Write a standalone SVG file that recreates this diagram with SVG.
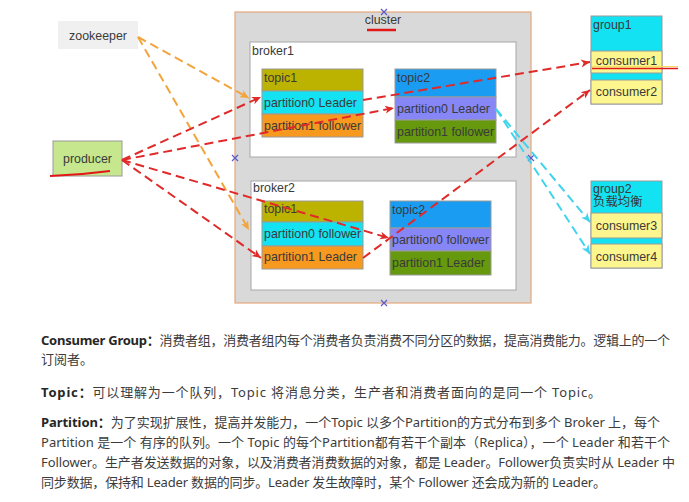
<svg xmlns="http://www.w3.org/2000/svg" width="689" height="502" viewBox="0 0 689 502">
<style>
.lbl{font-family:"Liberation Sans",Arial,sans-serif;font-size:12.4px;fill:#3a3a3a}
.box{stroke:#9a9a9a;stroke-width:1}
.red{fill:none;stroke:#e02a2a;stroke-width:2;stroke-dasharray:9,5}
.org{fill:none;stroke:#f3a43a;stroke-width:2;stroke-dasharray:9,5}
.cyn{fill:none;stroke:#3fd3ee;stroke-width:2;stroke-dasharray:9,5}
.body{font-family:"Noto Sans","Noto Sans CJK SC",sans-serif;font-size:13px;fill:#3c3c3c}
.b{font-weight:bold;fill:#262626}
.xm{stroke:#5a5acc;stroke-width:1.2}
</style>
<defs>
<marker id="ar" markerUnits="userSpaceOnUse" markerWidth="10" markerHeight="10" refX="9" refY="5" orient="auto"><path d="M0,1 L9,5 L0,9 L2.5,5 Z" fill="#e02a2a"/></marker>
<marker id="ao" markerUnits="userSpaceOnUse" markerWidth="10" markerHeight="10" refX="9" refY="5" orient="auto"><path d="M0,1 L9,5 L0,9 L2.5,5 Z" fill="#f3a43a"/></marker>
<marker id="ac" markerUnits="userSpaceOnUse" markerWidth="10" markerHeight="10" refX="9" refY="5" orient="auto"><path d="M0,1 L9,5 L0,9 L2.5,5 Z" fill="#3fd3ee"/></marker>
</defs>
<rect width="689" height="502" fill="#ffffff"/>

<g id="zookeeper">
<rect x="58" y="21" width="80" height="28" fill="#f0f0f0"/>
<text class="lbl" x="98" y="39.5" text-anchor="middle">zookeeper</text>
</g>

<g id="producer">
<rect class="box" x="53" y="141" width="69" height="35" fill="#c6e78d"/>
<text class="lbl" x="87.5" y="163" text-anchor="middle">producer</text>
</g>

<g id="cluster">
<rect x="235" y="12" width="296" height="291" fill="#d9d9d9" stroke="#e2a77c" stroke-width="1.2"/>
<text class="lbl" x="383" y="24" text-anchor="middle">cluster</text>
<path class="xm" d="M381,9 L387,15 M387,9 L381,15 M232,155 L238,161 M238,155 L232,161 M528,155 L534,161 M534,155 L528,161 M381,300 L387,306 M387,300 L381,306"/>
</g>

<g id="broker1">
<rect x="250" y="42" width="266" height="115" fill="#ffffff" stroke="#a8a8a8"/>
<text class="lbl" x="252" y="55">broker1</text>
</g>
<g id="broker1-topic1">
<rect class="box" x="262" y="69" width="101" height="22" fill="#bcb200"/>
<rect class="box" x="262" y="91" width="101" height="23" fill="#12e2f2"/>
<rect class="box" x="262" y="114" width="101" height="23" fill="#f7981f"/>
<text class="lbl" x="264" y="82">topic1</text>
<text class="lbl" x="264" y="107">partition0 Leader</text>
<text class="lbl" x="264" y="130">partition1 follower</text>
</g>
<g id="broker1-topic2">
<rect class="box" x="395" y="69" width="101" height="28" fill="#1a9cf2"/>
<rect class="box" x="395" y="97" width="101" height="23" fill="#8686f6"/>
<rect class="box" x="395" y="120" width="101" height="23" fill="#66990d"/>
<text class="lbl" x="397" y="82">topic2</text>
<text class="lbl" x="397" y="113">partition0 Leader</text>
<text class="lbl" x="397" y="136">partition1 follower</text>
</g>

<g id="broker2">
<rect x="251" y="181" width="265" height="109" fill="#ffffff" stroke="#a8a8a8"/>
<text class="lbl" x="253" y="192">broker2</text>
</g>
<g id="broker2-topic1">
<rect class="box" x="262" y="201" width="101" height="21" fill="#bcb200"/>
<rect class="box" x="262" y="222" width="101" height="24" fill="#12e2f2"/>
<rect class="box" x="262" y="246" width="101" height="23" fill="#f7981f"/>
<text class="lbl" x="264" y="213">topic1</text>
<text class="lbl" x="264" y="238">partition0 follower</text>
<text class="lbl" x="264" y="261">partition1 Leader</text>
</g>
<g id="broker2-topic2">
<rect class="box" x="390" y="201" width="101" height="27" fill="#1a9cf2"/>
<rect class="box" x="390" y="228" width="101" height="23" fill="#8686f6"/>
<rect class="box" x="390" y="251" width="101" height="24" fill="#66990d"/>
<text class="lbl" x="392" y="214">topic2</text>
<text class="lbl" x="392" y="244">partition0 follower</text>
<text class="lbl" x="392" y="267">partition1 Leader</text>
</g>

<g id="group1">
<rect class="box" x="591" y="16" width="71" height="88" fill="#12e2f2"/>
<text class="lbl" x="593" y="29">group1</text>
<rect class="box" x="591" y="51" width="71" height="22" fill="#fdf68e"/>
<text class="lbl" x="626.5" y="65" text-anchor="middle">consumer1</text>
<rect class="box" x="591" y="80" width="71" height="24" fill="#fdf68e"/>
<text class="lbl" x="626.5" y="96" text-anchor="middle">consumer2</text>
</g>

<g id="group2">
<rect class="box" x="591" y="181" width="71" height="87" fill="#12e2f2"/>
<text class="lbl" x="593" y="193">group2</text>
<text class="lbl" x="593" y="206" style="font-family:'Liberation Sans','Noto Sans CJK SC',sans-serif">负载均衡</text>
<rect class="box" x="591" y="213" width="71" height="25" fill="#fdf68e"/>
<text class="lbl" x="626.5" y="230" text-anchor="middle">consumer3</text>
<rect class="box" x="591" y="244" width="71" height="24" fill="#fdf68e"/>
<text class="lbl" x="626.5" y="261" text-anchor="middle">consumer4</text>
</g>

<g id="connectors">
<path class="org" d="M138,37 L249,98" marker-end="url(#ao)"/>
<path class="org" d="M138,37 L249,230" marker-end="url(#ao)"/>
<path class="red" d="M122,160 L261,97" marker-end="url(#ar)"/>
<path class="red" d="M122,160 L394,108" marker-end="url(#ar)"/>
<path class="red" d="M122,160 L261,258" marker-end="url(#ar)"/>
<path class="red" d="M122,160 L389,238" marker-end="url(#ar)"/>
<path class="red" d="M363,100 L590,62" marker-end="url(#ar)"/>
<path class="red" d="M363,258 L590,90" marker-end="url(#ar)"/>
<path class="cyn" d="M496,109 L590,222" marker-end="url(#ac)"/>
<path class="cyn" d="M496,109 L590,254" marker-end="url(#ac)"/>
</g>

<g id="annotations">
<path d="M50,176 Q80,175 110,171" fill="none" stroke="#e01818" stroke-width="2"/>
<path d="M367,30 L396,30" fill="none" stroke="#e01818" stroke-width="2.5"/>
<path d="M592,66.5 L678,66.5" fill="none" stroke="#f4e060" stroke-width="1.2"/>
<path d="M592,68.5 L678,68.5" fill="none" stroke="#e01818" stroke-width="1.6"/>
</g>

<g id="text">
<text class="body" x="41" y="345" textLength="629" lengthAdjust="spacing"><tspan class="b">Consumer Group：</tspan>消费者组，消费者组内每个消费者负责消费不同分区的数据，提高消费能力。逻辑上的一个</text>
<text class="body" x="41" y="364">订阅者。</text>
<text class="body" x="41" y="397" textLength="560" lengthAdjust="spacing"><tspan class="b">Topic：</tspan>可以理解为一个队列，Topic 将消息分类，生产者和消费者面向的是同一个 Topic。</text>
<text class="body" x="41" y="427" textLength="619" lengthAdjust="spacing"><tspan class="b">Partition：</tspan>为了实现扩展性，提高并发能力，一个Topic 以多个Partition的方式分布到多个 Broker 上，每个</text>
<text class="body" x="41" y="447" textLength="629" lengthAdjust="spacing">Partition 是一个 有序的队列。一个 Topic 的每个Partition都有若干个副本（Replica），一个 Leader 和若干个</text>
<text class="body" x="41" y="467" textLength="634" lengthAdjust="spacing">Follower。生产者发送数据的对象，以及消费者消费数据的对象，都是 Leader。Follower负责实时从 Leader 中</text>
<text class="body" x="41" y="487" textLength="565" lengthAdjust="spacing">同步数据，保持和 Leader 数据的同步。Leader 发生故障时，某个 Follower 还会成为新的 Leader。</text>
</g>
</svg>
